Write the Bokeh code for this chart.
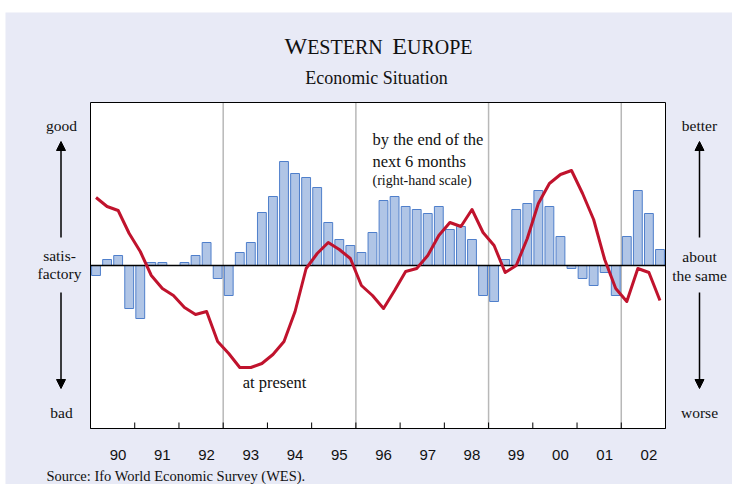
from bokeh.plotting import figure
from bokeh.models import Range1d, Arrow, NormalHead, ColumnDataSource
from bokeh.core.properties import value
from bokeh.embed import file_html
from bokeh.resources import INLINE

years = ["90", "91", "92", "93", "94", "95", "96", "97", "98", "99", "00", "01", "02"]
first_year = 1990

# economic situation at present (bars, left-hand scale), quarterly
present = [-10, 6, 10, -43,
           -53, 3, 3, 0,
           3, 10, 23, -13,
           -30, 13, 23, 53,
           69, 104, 92, 88,
           78, 43, 26, 20,
           13, 33, 65, 69,
           59, 56, 52, 59,
           36, 39, 26, -30,
           -36, 6, 56, 62,
           75, 59, 29, -3,
           -13, -20, -7, -30,
           29, 75, 52, 16]

# expectations by the end of the next 6 months (line, right-hand scale)
expected = [68, 59, 55, 32,
            14, -10, -23, -30,
            -42, -49, -46, -76,
            -88, -102, -102, -98,
            -89, -76, -46, -3,
            12, 23, 16, 7,
            -20, -30, -43, -25,
            -6, -3, 10, 30,
            43, 39, 56, 33,
            20, -7, 0, 27,
            62, 82, 91, 95,
            72, 46, 6, -23,
            -36, -3, -7, -35]

divider_years = [1993, 1996, 1999, 2002]
scale_limit = 163          # both scales run symmetric around zero

PANEL = "#E8EAF6"
BAR_FILL = "#B0C5E6"
BAR_LINE = "#4F7FCB"
LINE_COL = "#C0132D"
TEXT_COL = "#111111"
SERIF = "Liberation Serif"
SANS = "Liberation Sans"

W, H = 732, 484
# placement of the chart box on the canvas (pixels)
BOX_L, BOX_R, ZERO_Y = 90, 665, 265
last_year = first_year + len(years)
yrs_per_px = (last_year - first_year) / (BOX_R - BOX_L)


def X(px):   # canvas pixel -> x data
    return first_year + (px - BOX_L) * yrs_per_px


def Y(py):   # canvas pixel -> y data (1 unit per pixel)
    return ZERO_Y - py


p = figure(width=W, height=H, output_backend="svg", toolbar_location=None,
           x_range=Range1d(X(0), X(W)), y_range=Range1d(Y(H), Y(0)),
           min_border=0, x_axis_location=None, y_axis_location=None)
p.extra_y_ranges = {"right": Range1d(Y(H), Y(0))}
p.background_fill_color = "white"
p.border_fill_color = "white"
p.outline_line_color = None
p.xgrid.visible = False
p.ygrid.visible = False

# lavender panel
p.quad(left=X(5), right=X(W + 20), top=Y(12), bottom=Y(H + 20),
       fill_color=PANEL, line_color=None)
# chart box
p.quad(left=first_year, right=last_year, bottom=-scale_limit, top=scale_limit,
       fill_color="white", line_color=None)
p.segment(x0=divider_years, x1=divider_years,
          y0=[-scale_limit] * len(divider_years), y1=[scale_limit] * len(divider_years),
          line_color="#B8B8B8", line_width=1.5)

n = len(present)
xq = [first_year + (i + 0.5) / 4 for i in range(n)]
src = ColumnDataSource(dict(x=xq, present=present, expected=expected))

p.vbar(x="x", top="present", bottom=0, width=0.2, source=src,
       fill_color=BAR_FILL, line_color=BAR_LINE, line_width=1)
p.segment(x0=[first_year], x1=[last_year], y0=[0], y1=[0],
          line_color="black", line_width=1.5)
p.line(x="x", y="expected", source=src, y_range_name="right",
       line_color=LINE_COL, line_width=3, line_join="round")

# box outline and year ticks (bottom axis)
p.quad(left=first_year, right=last_year, bottom=-scale_limit, top=scale_limit,
       fill_color=None, line_color="black", line_width=1)
bounds = [first_year + i for i in range(len(years) + 1)]
p.segment(x0=bounds, x1=bounds, y0=[-scale_limit] * len(bounds),
          y1=[-scale_limit + 6] * len(bounds), line_color="black", line_width=1)
label_x = [first_year + i + 0.5 + 5.5 * yrs_per_px for i in range(len(years))]
p.text(x=label_x, y=[Y(454)] * len(years), text=years, text_font=value(SANS),
       text_font_size="15px", text_color=TEXT_COL, text_align="center",
       text_baseline="middle")


def lab(x, y, text, size, align="center"):
    p.text(x=[X(x)], y=[Y(y)], text=[text], text_font=value(SERIF),
           text_font_size=f"{size}px", text_color=TEXT_COL, text_align=align,
           text_baseline="middle")


# in-box annotations
lab(372, 139, "by the end of the", 16.5, align="left")
lab(372, 161, "next 6 months", 16.5, align="left")
lab(372, 180, "(right-hand scale)", 14, align="left")
lab(274, 382, "at present", 16.5)

# small caps title (pieces share one baseline)
big, small = 24, 20
title_baseline = 53.3
pieces = [("W", big, 0.944), ("ESTERN", small, 3.778), (" ", big, 0.4),
          ("E", big, 0.611), ("UROPE", small, 3.278)]
total = sum(s * w for _, s, w in pieces)
x0 = 378 - total / 2
for t, s, w in pieces:
    if t.strip():
        lab(x0, title_baseline - 0.331 * s, t, s, align="left")
    x0 += s * w
lab(376, 77, "Economic Situation", 18)

# side labels
lab(61, 125, "good", 15.5)
lab(59, 255, "satis-", 15.5)
lab(59, 273, "factory", 15.5)
lab(61, 412, "bad", 15.5)
lab(699, 125, "better", 15.5)
lab(699, 256, "about", 15.5)
lab(699, 275, "the same", 15.5)
lab(699, 412, "worse", 15.5)
lab(46, 475, "Source: Ifo World Economic Survey (WES).", 14.5, align="left")

for ax in (60.5, 699):
    for ys, ye in ((237, 141), (292, 388)):
        p.add_layout(Arrow(end=NormalHead(size=9, fill_color="black", line_color="black"),
                           x_start=X(ax), y_start=Y(ys), x_end=X(ax), y_end=Y(ye),
                           line_color="black", line_width=1.5))

open("out.html", "w").write(file_html(p, INLINE))
